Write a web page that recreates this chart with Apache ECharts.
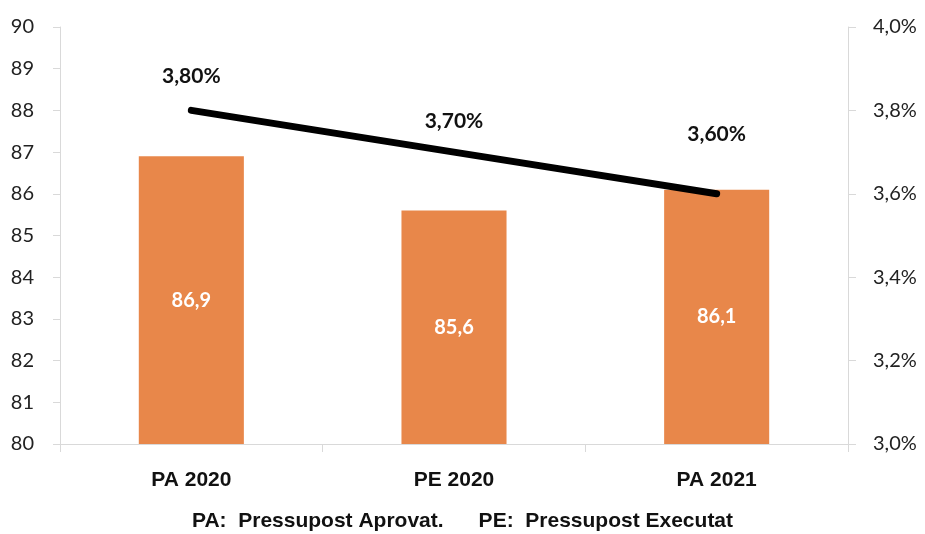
<!DOCTYPE html>
<html>
<head>
<meta charset="utf-8">
<script src="https://cdn.jsdelivr.net/npm/echarts@6/dist/echarts.min.js"></script>
<style>
html,body{margin:0;padding:0;background:#fff;}
#main{width:925px;height:534px;}
</style>
</head>
<body>
<div id="main"></div>
<script>
// dades
var categories = ['PA 2020', 'PE 2020', 'PA 2021'];
var pressupost = [86.9, 85.6, 86.1];
var percentatge = [3.8, 3.7, 3.6];
var leftTicks = [80, 90, 1];
var rightTicks = [3.0, 4.0, 0.2];
var footnote = 'PA:  Pressupost Aprovat.      PE:  Pressupost Executat';

// distancia de cada etiqueta de la línia (estil)
var lineLabelGap = [23, 20, 49];

var comma = function (v, d) { return v.toFixed(d).replace('.', ','); };

var chart = echarts.init(document.getElementById('main'));
var option = {
	animation: false,
	textStyle: { fontFamily: 'Lato' },
	grid: { left: 60, right: 77, top: 27, bottom: 90 },
	graphic: [{
		type: 'text',
		left: 'center',
		top: 511,
		style: {
			text: footnote,
			font: 'bold 21px "Liberation Sans", Arial',
			fill: '#111'
		}
	}],
	xAxis: {
		type: 'category',
		data: categories,
		axisLine: { lineStyle: { color: '#d9d9d9', width: 1 } },
		axisTick: { show: true, length: 8, lineStyle: { color: '#d9d9d9' } },
		axisLabel: {
			margin: 26,
			color: '#111',
			fontSize: 21,
			fontWeight: 'bold',
			fontFamily: '"Liberation Sans", Arial'
		}
	},
	yAxis: [{
		type: 'value',
		min: leftTicks[0],
		max: leftTicks[1],
		interval: leftTicks[2],
		splitLine: { show: false },
		axisLine: { show: true, lineStyle: { color: '#d9d9d9' } },
		axisTick: { show: true, length: 7, lineStyle: { color: '#d9d9d9' } },
		axisLabel: { color: '#222', fontSize: 20, margin: 26 }
	}, {
		type: 'value',
		min: rightTicks[0],
		max: rightTicks[1],
		interval: rightTicks[2],
		splitLine: { show: false },
		axisLine: { show: true, lineStyle: { color: '#d9d9d9' } },
		axisTick: { show: true, length: 8, lineStyle: { color: '#d9d9d9' } },
		axisLabel: {
			color: '#222', fontSize: 20, margin: 25,
			formatter: function (v) { return comma(v, 1) + '%'; }
		}
	}],
	series: [{
		name: 'Pressupost',
		type: 'bar',
		barWidth: '40%',
		data: pressupost,
		itemStyle: { color: '#E8874A' },
		label: {
			show: true,
			position: 'inside',
			color: '#fff',
			fontSize: 20,
			fontWeight: 'bold',
			formatter: function (p) { return comma(p.value, 1); }
		}
	}, {
		name: 'Percentatge',
		type: 'line',
		yAxisIndex: 1,
		showSymbol: true,
		symbol: 'circle',
		symbolSize: 1,
		itemStyle: { color: '#000' },
		data: percentatge.map(function (v, i) {
			return { value: v, label: { distance: lineLabelGap[i] } };
		}),
		lineStyle: { color: '#000', width: 7, cap: 'round' },
		label: {
			show: true,
			position: 'top',
			color: '#111',
			fontSize: 21,
			fontWeight: 'bold',
			formatter: function (p) { return comma(p.value, 2) + '%'; }
		}
	}]
};
chart.setOption(option);
</script>
</body>
</html>
